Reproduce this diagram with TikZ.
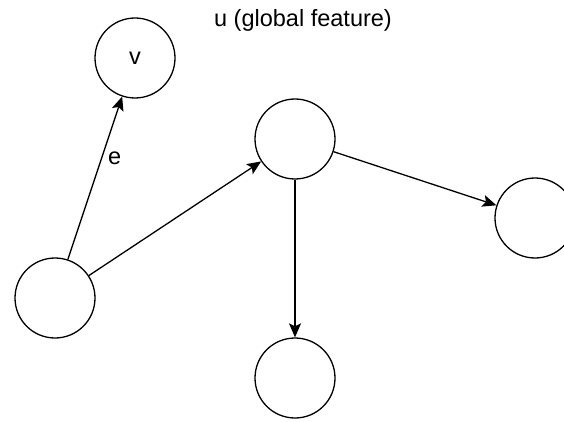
\documentclass[tikz,border=0pt]{standalone}
\usepackage{fontspec}
\setmainfont{Liberation Sans}
\usetikzlibrary{arrows.meta}
\tikzset{
  vtx/.style={circle,draw,line width=1.3pt,minimum size=80pt,inner sep=0pt,%
    font=\fontsize{23.5}{28}\selectfont},
  edge/.style={-{Stealth[length=14pt,width=12pt,inset=3pt]},line width=1.3pt},
  lbl/.style={font=\fontsize{23.5}{28}\selectfont,inner sep=1pt},
}

\begin{document}
\begin{tikzpicture}[x=1pt,y=-1pt]
\useasboundingbox (0,0) rectangle (564,422);
\node[lbl] (glob) at (303,20) {u (global feature)};
\node[vtx] (v) at (135,58) {v};
\node[vtx] (hub) at (295,139) {};
\node[vtx] (src) at (55,298) {};
\node[vtx] (rt) at (535,218) {};
\node[vtx] (bot) at (295,378) {};
\draw[edge] (src) -- node[lbl,right=5pt,pos=0.62]{e} (v);
\draw[edge] (src) -- (hub);
\draw[edge] (hub) -- (rt);
\draw[edge] (hub) -- (bot);
\end{tikzpicture}
\end{document}
